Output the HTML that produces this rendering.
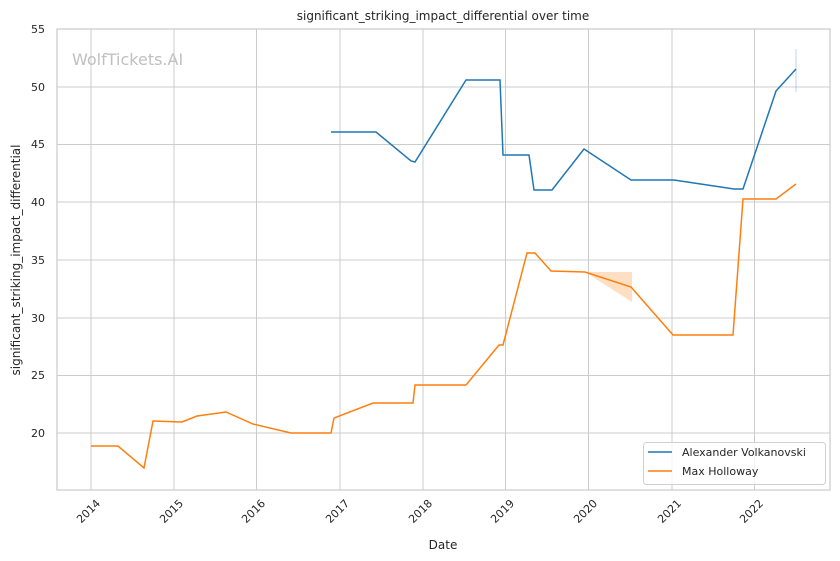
<!DOCTYPE html>
<html><head><meta charset="utf-8"><style>
html,body{margin:0;padding:0;background:#fff;}
svg{display:block;font-family:"DejaVu Sans","Liberation Sans",sans-serif;}
</style></head><body>
<svg width="840" height="561" viewBox="0 0 840 561" xmlns="http://www.w3.org/2000/svg">
<rect width="840" height="561" fill="#fff"/>
<g stroke="#cccccc" stroke-width="1">
<line x1="91" y1="29" x2="91" y2="490"/><line x1="174" y1="29" x2="174" y2="490"/>
<line x1="256.5" y1="29" x2="256.5" y2="490"/><line x1="340" y1="29" x2="340" y2="490"/>
<line x1="423" y1="29" x2="423" y2="490"/><line x1="505.5" y1="29" x2="505.5" y2="490"/>
<line x1="588.5" y1="29" x2="588.5" y2="490"/><line x1="672" y1="29" x2="672" y2="490"/>
<line x1="754.5" y1="29" x2="754.5" y2="490"/>
<line x1="57" y1="87" x2="830" y2="87"/><line x1="57" y1="144.5" x2="830" y2="144.5"/>
<line x1="57" y1="202" x2="830" y2="202"/><line x1="57" y1="260" x2="830" y2="260"/>
<line x1="57" y1="318" x2="830" y2="318"/><line x1="57" y1="375.5" x2="830" y2="375.5"/>
<line x1="57" y1="433" x2="830" y2="433"/>
</g>
<rect x="57" y="29" width="773" height="461" fill="none" stroke="#cccccc" stroke-width="1.25"/>
<text x="72" y="65" font-size="16" fill="#c0c0c0">WolfTickets.AI</text>
<polygon points="585,272 632,272 632,302" fill="#ff7f0e" fill-opacity="0.25"/>
<line x1="796" y1="49" x2="796" y2="92" stroke="#1f77b4" stroke-opacity="0.3" stroke-width="1"/>
<polyline fill="none" stroke="#1f77b4" stroke-width="1.5" points="331,132 376,132 411,161 415,162 466,80 500,80 503,155 529,155 534,190 552,190 584,149 631,180 674,180 734,189 743,189 776,91 796,69"/>
<polyline fill="none" stroke="#ff7f0e" stroke-width="1.5" points="91,446 118,446 144,468 153,421 182,422 197,416 226,412 253,424 291,433 331,433 334,418 373,403 413,403 415,385 466,385 499,345 503,345 527,253 535,253 551,271 585,272 631,287 673,335 733,335 743,199 776,199 796,184"/>
<g font-size="11" fill="#262626" text-anchor="end">
<text x="45" y="33">55</text><text x="45" y="91">50</text><text x="45" y="148">45</text>
<text x="45" y="206">40</text><text x="45" y="264">35</text><text x="45" y="322">30</text>
<text x="45" y="379">25</text><text x="45" y="437">20</text>
</g>
<g font-size="11" fill="#262626" text-anchor="end">
<text transform="translate(101,504) rotate(-45)">2014</text>
<text transform="translate(184,504) rotate(-45)">2015</text>
<text transform="translate(266,504) rotate(-45)">2016</text>
<text transform="translate(350,504) rotate(-45)">2017</text>
<text transform="translate(433,504) rotate(-45)">2018</text>
<text transform="translate(515,504) rotate(-45)">2019</text>
<text transform="translate(598,504) rotate(-45)">2020</text>
<text transform="translate(682,504) rotate(-45)">2021</text>
<text transform="translate(764,504) rotate(-45)">2022</text>
</g>
<text x="443" y="549" font-size="12" fill="#262626" text-anchor="middle">Date</text>
<text transform="translate(20,260) rotate(-90)" font-size="12" fill="#262626" text-anchor="middle">significant_striking_impact_differential</text>
<text x="443" y="20" font-size="12" fill="#262626" text-anchor="middle">significant_striking_impact_differential over time</text>
<rect x="643.5" y="442.5" width="182" height="42" rx="3" fill="#fff" fill-opacity="0.8" stroke="#d0d0d0"/>
<line x1="648" y1="452" x2="672" y2="452" stroke="#1f77b4" stroke-width="1.5"/>
<line x1="648" y1="471" x2="672" y2="471" stroke="#ff7f0e" stroke-width="1.5"/>
<g font-size="11" fill="#262626">
<text x="682" y="456">Alexander Volkanovski</text>
<text x="682" y="475">Max Holloway</text>
</g>
</svg>
</body></html>
